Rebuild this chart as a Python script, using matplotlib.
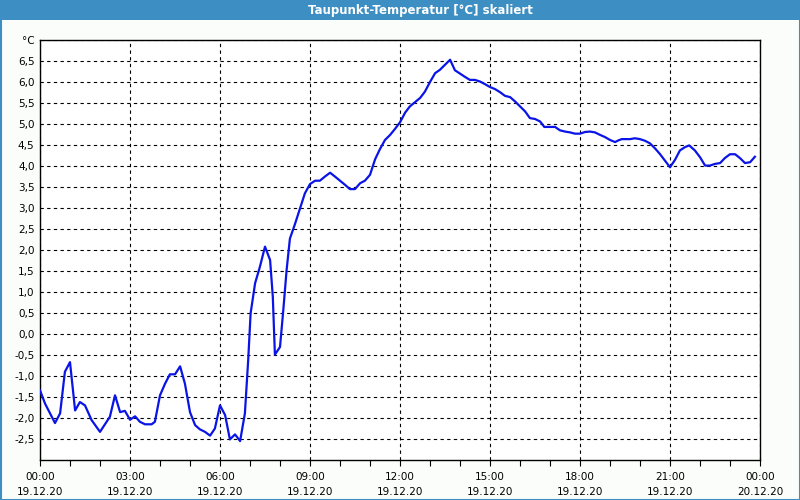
import matplotlib
matplotlib.use("Agg")
import matplotlib.pyplot as plt
from matplotlib.patches import Rectangle
from matplotlib.ticker import MultipleLocator

# time in hours since 19.12.20 00:00, dew point in °C
hours = [0.0, 0.17, 0.5, 0.67, 0.83, 1.0, 1.17, 1.33, 1.5, 1.72, 2.0, 2.33, 2.5, 2.67, 2.83,
         3.0, 3.17, 3.33, 3.5, 3.72, 3.83, 4.0, 4.17, 4.33, 4.5, 4.67, 4.83, 5.0, 5.17, 5.33,
         5.5, 5.67, 5.83, 6.0, 6.17, 6.33, 6.5, 6.67, 6.83, 6.94, 7.02, 7.17, 7.33, 7.5, 7.67,
         7.76, 7.83, 8.0, 8.11, 8.22, 8.33, 8.5, 8.67, 8.83, 9.0, 9.17, 9.33, 9.5, 9.67, 9.83,
         10.0, 10.17, 10.33, 10.5, 10.67, 10.83, 11.0, 11.17, 11.33, 11.5, 11.67, 11.83, 12.0,
         12.17, 12.33, 12.5, 12.67, 12.83, 13.0, 13.17, 13.33, 13.5, 13.67, 13.83, 14.0, 14.17,
         14.33, 14.5, 14.67, 14.83, 15.0, 15.17, 15.33, 15.5, 15.67, 15.83, 16.0, 16.17, 16.33,
         16.5, 16.67, 16.81, 17.17, 17.33, 17.5, 17.67, 17.83, 18.0, 18.17, 18.33, 18.5, 18.67,
         18.83, 19.0, 19.17, 19.28, 19.39, 19.67, 19.83, 20.0, 20.17, 20.33, 20.5, 20.67, 20.83,
         21.0, 21.17, 21.33, 21.5, 21.64, 21.83, 22.0, 22.17, 22.33, 22.5, 22.67, 22.83, 23.0,
         23.17, 23.33, 23.5, 23.67, 23.83]
dewpoint = [-1.34, -1.66, -2.12, -1.89, -0.90, -0.67, -1.82, -1.62, -1.70, -2.05, -2.33, -1.97,
            -1.46, -1.86, -1.83, -2.04, -1.96, -2.09, -2.15, -2.15, -2.09, -1.46, -1.18, -0.96,
            -0.96, -0.77, -1.18, -1.86, -2.17, -2.27, -2.33, -2.42, -2.25, -1.70, -1.93, -2.51,
            -2.39, -2.55, -1.89, -0.62, 0.49, 1.21, 1.60, 2.08, 1.76, 0.89, -0.49, -0.31, 0.57,
            1.52, 2.27, 2.62, 3.0, 3.35, 3.57, 3.65, 3.65, 3.75, 3.84, 3.75, 3.65, 3.55, 3.45,
            3.45, 3.59, 3.65, 3.79, 4.16, 4.40, 4.62, 4.74, 4.88, 5.04, 5.27, 5.42, 5.52, 5.62,
            5.77, 6.0, 6.21, 6.29, 6.41, 6.53, 6.28, 6.20, 6.12, 6.05, 6.05, 6.01, 5.95, 5.88,
            5.83, 5.76, 5.67, 5.64, 5.54, 5.42, 5.30, 5.14, 5.12, 5.06, 4.93, 4.93, 4.85, 4.82,
            4.80, 4.77, 4.77, 4.81, 4.82, 4.80, 4.74, 4.69, 4.62, 4.57, 4.61, 4.64, 4.64, 4.66,
            4.64, 4.60, 4.54, 4.42, 4.28, 4.13, 3.97, 4.15, 4.37, 4.45, 4.49, 4.37, 4.21, 4.01,
            4.01, 4.05, 4.07, 4.19, 4.28, 4.28, 4.19, 4.07, 4.09, 4.22]

x_tick_pos = [0, 3, 6, 9, 12, 15, 18, 21, 24]
x_tick_labels = ["00:00\n19.12.20", "03:00\n19.12.20", "06:00\n19.12.20", "09:00\n19.12.20",
                 "12:00\n19.12.20", "15:00\n19.12.20", "18:00\n19.12.20", "21:00\n19.12.20",
                 "00:00\n20.12.20"]
y_tick_pos = [-2.5, -2.0, -1.5, -1.0, -0.5, 0.0, 0.5, 1.0, 1.5, 2.0, 2.5, 3.0, 3.5, 4.0, 4.5,
              5.0, 5.5, 6.0, 6.5, 7.0]
y_tick_labels = ["-2,5", "-2,0", "-1,5", "-1,0", "-0,5", "0,0", "0,5", "1,0", "1,5", "2,0",
                 "2,5", "3,0", "3,5", "4,0", "4,5", "5,0", "5,5", "6,0", "6,5", "°C"]
title = "Taupunkt-Temperatur [°C] skaliert"

bg = "#fbfdfb"
blue_bar = "#3d8fc3"

fig = plt.figure(figsize=(8, 5), dpi=100, facecolor=bg)
# title bar
fig.patches.append(Rectangle((0, 1 - 20 / 500), 1, 20 / 500, transform=fig.transFigure,
                             facecolor=blue_bar, edgecolor="none", zorder=0))
fig.patches.append(Rectangle((0.5 / 800, 0.5 / 500), 1 - 1 / 800, 1 - 1 / 500,
                             transform=fig.transFigure, facecolor="none",
                             edgecolor=blue_bar, linewidth=1.5, zorder=1))
fig.text(0.525, 1 - 10.5 / 500, title, color="white", fontsize=8.5, fontweight="bold",
         ha="center", va="center")

ax = fig.add_axes([40 / 800, 40 / 500, 720 / 800, 420 / 500])
ax.set_facecolor("white")
ax.plot(hours, dewpoint, color="#0a14e6", linewidth=1.6, zorder=3)

ax.set_xlim(0, 24)
ax.set_ylim(-3, 7)
ax.set_xticks(x_tick_pos)
ax.set_xticklabels(x_tick_labels, fontsize=7.5, linespacing=1.55)
ax.xaxis.set_minor_locator(MultipleLocator(1))
ax.set_yticks(y_tick_pos)
ax.set_yticklabels(y_tick_labels, fontsize=7.5)
ax.tick_params(axis="y", length=0, pad=4)
ax.tick_params(axis="x", which="both", length=4, width=0.8, direction="out", pad=5)

ax.grid(True, which="major", color="black", linestyle=(0, (3, 3)), linewidth=0.8)
for s in ax.spines.values():
    s.set_color("black")
    s.set_linewidth(1.0)

fig.savefig("out.png", dpi=100, facecolor=bg)
